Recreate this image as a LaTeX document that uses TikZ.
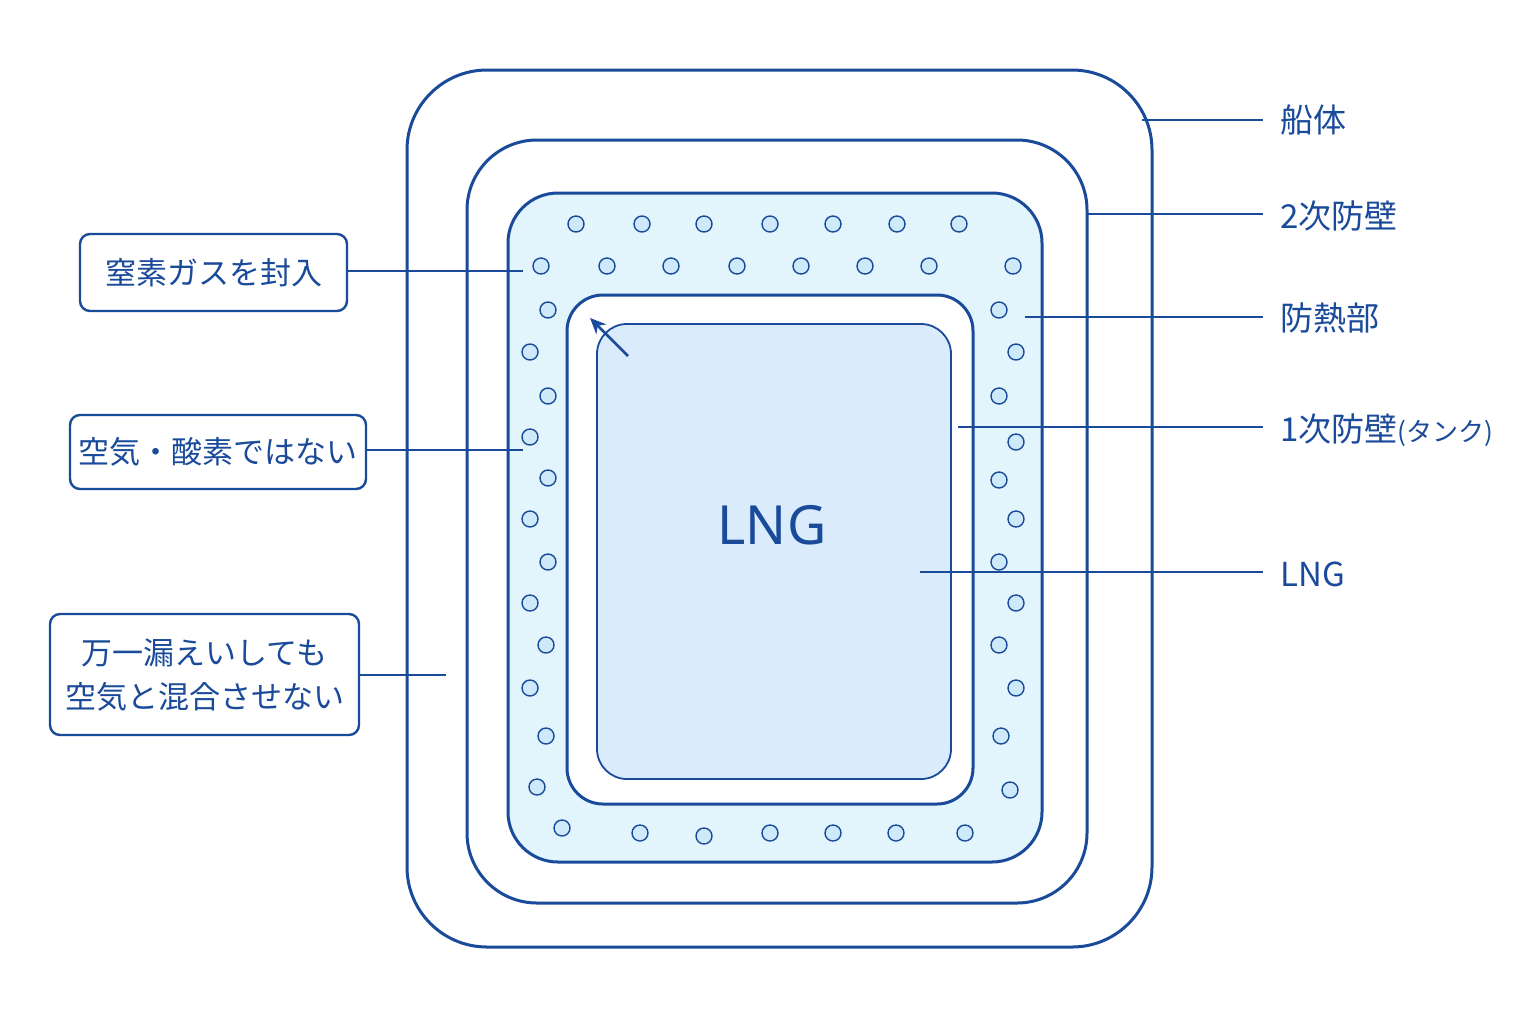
\documentclass[tikz,border=0pt]{standalone}
\usetikzlibrary{arrows.meta}
\usepackage{fontspec}
\newfontfamily\cjk{Noto Sans CJK JP}
\definecolor{dk}{HTML}{1A4A9A}
\definecolor{ins}{HTML}{E2F4FC}
\definecolor{lng}{HTML}{DAECFB}
\definecolor{dot}{HTML}{CDE9FA}
\begin{document}
\begin{tikzpicture}[x=0.5pt,y=-0.5pt,
  wall/.style={draw=dk,line width=1.5pt},
  lab/.style={anchor=west,text=dk,font=\cjk\fontsize{16.5}{18}\selectfont,inner sep=0pt},
  box/.style={draw=dk,line width=1.2pt,rounded corners=5pt,fill=white,text=dk,font=\cjk\fontsize{15.5}{22}\selectfont,align=center,inner sep=0pt},
  ln/.style={draw=dk,line width=1.2pt},
  bub/.style={circle,draw=dk,line width=0.7pt,fill=dot,minimum size=8pt,inner sep=0pt}]
\useasboundingbox[fill=white] (0,0) rectangle (1536,1024);
\draw[wall,rounded corners=40pt] (407,70) rectangle (1152,947);
\draw[wall,rounded corners=35pt] (467,140) rectangle (1087,903);
\draw[wall,fill=ins,rounded corners=25pt] (508,193) rectangle (1042,862);
\draw[wall,fill=white,rounded corners=18pt] (567,295) rectangle (973,804);
\draw[draw=dk,line width=0.9pt,fill=lng,rounded corners=15pt] (597,324) rectangle (951,779);
\node[text=dk,font=\fontspec{Noto Sans}\fontsize{27}{30}\selectfont] (lngc) at (772,525) {LNG};
\coordinate (a1) at (628,356); \coordinate (a2) at (590,318);
\draw[ln,line width=1.4pt,-{Stealth[length=8pt,width=7pt]}] (a1) -- (a2);
\foreach \x/\y [count=\i] in {576/224,642/224,704/224,770/224,833/224,897/224,959/224,
 541/266,607/266,671/266,737/266,801/266,865/266,929/266,1013/266,
 548/310,530/352,548/396,530/437,548/478,530/519,548/562,530/603,546/645,530/688,546/736,537/787,562/828,
 999/310,1016/352,999/396,1016/442,999/480,1016/519,999/562,1016/603,999/645,1016/688,1001/736,1010/790,
 640/833,704/836,770/833,833/833,896/833,965/833}
 \node[bub] (b\i) at (\x,\y) {};
% right labels
\node[lab] (l1) at (1280,120) {船体};
\node[lab] (l2) at (1280,216) {2次防壁};
\node[lab] (l3) at (1280,318) {防熱部};
\node[lab] (l4) at (1280,430) {1次防壁{\fontsize{13}{14}\selectfont (タンク)}};
\node[lab] (l5) at (1280,574) {LNG};
\coordinate (p1) at (1142,120); \coordinate (p2) at (1087,214);
\coordinate (p3) at (1025,317); \coordinate (p4) at (958,427); \coordinate (p5) at (920,572);
\draw[ln] (p1) -- (1263,120); \draw[ln] (p2) -- (1263,214); \draw[ln] (p3) -- (1263,317);
\draw[ln] (p4) -- (1263,427); \draw[ln] (p5) -- (1263,572);
% left boxes
\node[box,minimum width=133.5pt,minimum height=38.5pt] (k1) at (213.5,272.5) {窒素ガスを封入};
\node[box,minimum width=148pt,minimum height=37pt] (k2) at (218,452) {空気・酸素ではない};
\node[box,minimum width=154.5pt,minimum height=60.5pt] (k3) at (204.5,674.5) {万一漏えいしても\\空気と混合させない};
\coordinate (q1) at (523,271); \coordinate (q2) at (523,450); \coordinate (q3) at (446,675);
\draw[ln] (k1.east |- q1) -- (q1);
\draw[ln] (k2.east |- q2) -- (q2);
\draw[ln] (k3.east |- q3) -- (q3);
\end{tikzpicture}
\end{document}
